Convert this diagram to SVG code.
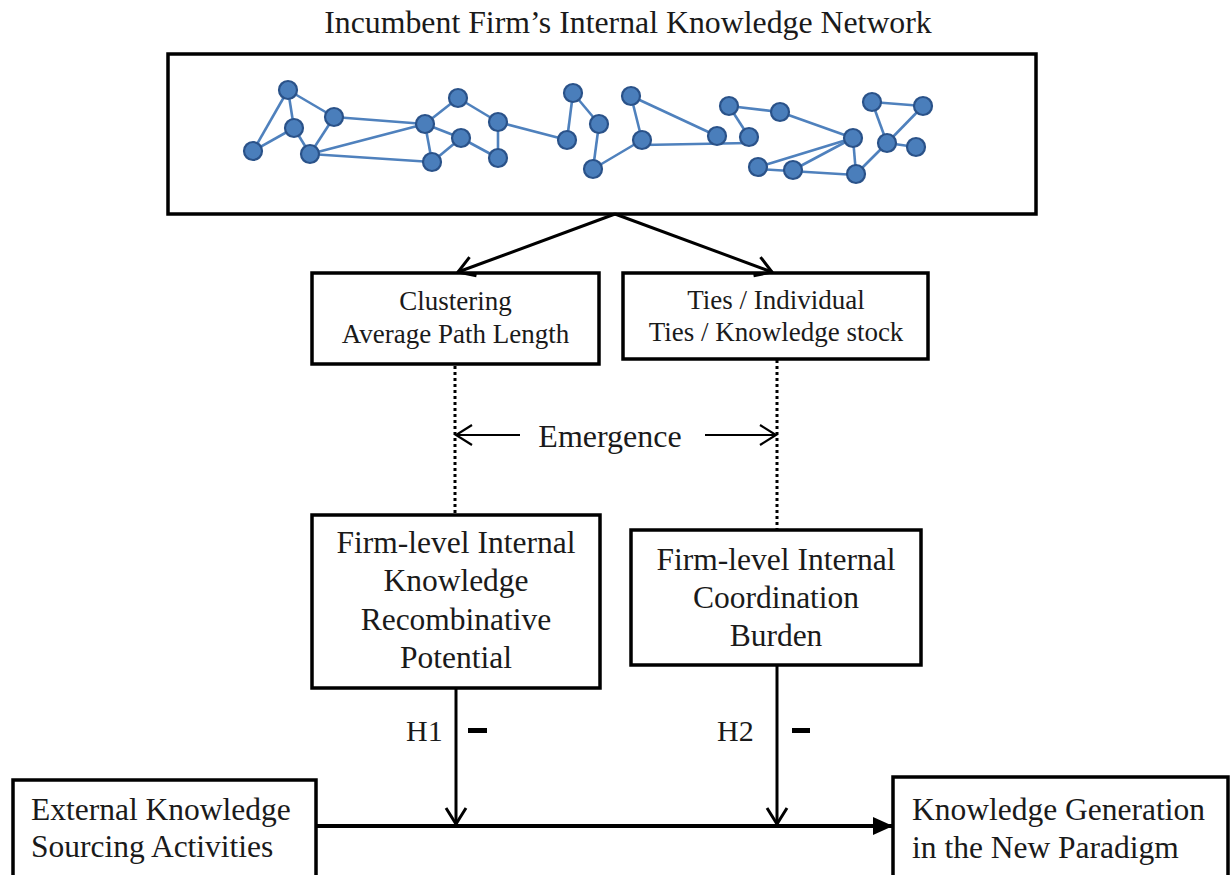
<svg xmlns="http://www.w3.org/2000/svg" width="1230" height="875" viewBox="0 0 1230 875">
<style>
text{font-family:"Liberation Serif","Times New Roman",serif;fill:#1a1a1a}
.box{fill:#fff;stroke:#000;stroke-width:3.5}
.ln{stroke:#000;stroke-width:3;fill:none}
.thin{stroke:#000;stroke-width:2;fill:none}
.dot{stroke:#000;stroke-width:3;stroke-dasharray:3 3;fill:none}
.ed{stroke:#4F81BD;stroke-width:2.6;fill:none}
.nd{fill:#4A7EBB;stroke:#2A5289;stroke-width:2.2}
.t27{font-size:27px;text-anchor:middle}
.t31{font-size:31.5px}
.mid{text-anchor:middle}
</style>
<defs>
<marker id="openv" viewBox="0 0 20 24" refX="18" refY="12" markerWidth="20" markerHeight="24" markerUnits="userSpaceOnUse" orient="auto">
<path d="M2,2 L18,12 L2,22" fill="none" stroke="#000" stroke-width="3"/>
</marker>
<marker id="openthin" viewBox="0 0 20 24" refX="18" refY="12" markerWidth="20" markerHeight="24" markerUnits="userSpaceOnUse" orient="auto">
<path d="M2,2 L18,12 L2,22" fill="none" stroke="#000" stroke-width="2.2"/>
</marker>
<marker id="solid" viewBox="0 0 22 22" refX="21" refY="11" markerWidth="22" markerHeight="22" markerUnits="userSpaceOnUse" orient="auto">
<path d="M1,2 L21,11 L1,20 z" fill="#000"/>
</marker>
</defs>

<text x="628" y="33" class="mid" style="font-size:31.8px">Incumbent Firm’s Internal Knowledge Network</text>

<g id="network">
<rect x="168" y="54" width="868" height="160" class="box"/>
<g class="edges">
<line class="ed" x1="288" y1="90" x2="253" y2="151"/>
<line class="ed" x1="288" y1="90" x2="294" y2="128"/>
<line class="ed" x1="288" y1="90" x2="334" y2="117"/>
<line class="ed" x1="294" y1="128" x2="310" y2="154"/>
<line class="ed" x1="253" y1="151" x2="294" y2="128"/>
<line class="ed" x1="334" y1="117" x2="310" y2="154"/>
<line class="ed" x1="334" y1="117" x2="425" y2="124"/>
<line class="ed" x1="310" y1="154" x2="425" y2="124"/>
<line class="ed" x1="310" y1="154" x2="432" y2="162"/>
<line class="ed" x1="425" y1="124" x2="458" y2="98"/>
<line class="ed" x1="425" y1="124" x2="461" y2="138"/>
<line class="ed" x1="425" y1="124" x2="432" y2="162"/>
<line class="ed" x1="432" y1="162" x2="461" y2="138"/>
<line class="ed" x1="458" y1="98" x2="498" y2="122"/>
<line class="ed" x1="498" y1="122" x2="498" y2="158"/>
<line class="ed" x1="461" y1="138" x2="498" y2="158"/>
<line class="ed" x1="498" y1="122" x2="567" y2="140"/>
<line class="ed" x1="567" y1="140" x2="573" y2="93"/>
<line class="ed" x1="573" y1="93" x2="599" y2="124"/>
<line class="ed" x1="599" y1="124" x2="593" y2="169"/>
<line class="ed" x1="593" y1="169" x2="642" y2="140"/>
<line class="ed" x1="642" y1="140" x2="631" y2="96"/>
<line class="ed" x1="631" y1="96" x2="717" y2="136"/>
<line class="ed" x1="642" y1="145" x2="749" y2="143"/>
<line class="ed" x1="729" y1="106" x2="749" y2="137"/>
<line class="ed" x1="729" y1="106" x2="780" y2="112"/>
<line class="ed" x1="780" y1="112" x2="853" y2="138"/>
<line class="ed" x1="758" y1="167" x2="853" y2="138"/>
<line class="ed" x1="793" y1="170" x2="853" y2="138"/>
<line class="ed" x1="758" y1="169" x2="856" y2="175"/>
<line class="ed" x1="853" y1="138" x2="856" y2="174"/>
<line class="ed" x1="856" y1="174" x2="887" y2="143"/>
<line class="ed" x1="887" y1="143" x2="872" y2="102"/>
<line class="ed" x1="872" y1="102" x2="923" y2="106"/>
<line class="ed" x1="923" y1="106" x2="887" y2="143"/>
<line class="ed" x1="887" y1="143" x2="916" y2="147"/>
</g>
<g class="nodes">
<circle class="nd" cx="288" cy="90" r="9"/>
<circle class="nd" cx="294" cy="128" r="9"/>
<circle class="nd" cx="253" cy="151" r="9"/>
<circle class="nd" cx="310" cy="154" r="9"/>
<circle class="nd" cx="334" cy="117" r="9"/>
<circle class="nd" cx="425" cy="124" r="9"/>
<circle class="nd" cx="458" cy="98" r="9"/>
<circle class="nd" cx="461" cy="138" r="9"/>
<circle class="nd" cx="432" cy="162" r="9"/>
<circle class="nd" cx="498" cy="122" r="9"/>
<circle class="nd" cx="498" cy="158" r="9"/>
<circle class="nd" cx="567" cy="140" r="9"/>
<circle class="nd" cx="573" cy="93" r="9"/>
<circle class="nd" cx="599" cy="124" r="9"/>
<circle class="nd" cx="593" cy="169" r="9"/>
<circle class="nd" cx="631" cy="96" r="9"/>
<circle class="nd" cx="642" cy="140" r="9"/>
<circle class="nd" cx="717" cy="136" r="9"/>
<circle class="nd" cx="749" cy="137" r="9"/>
<circle class="nd" cx="729" cy="106" r="9"/>
<circle class="nd" cx="780" cy="112" r="9"/>
<circle class="nd" cx="758" cy="167" r="9"/>
<circle class="nd" cx="793" cy="170" r="9"/>
<circle class="nd" cx="853" cy="138" r="9"/>
<circle class="nd" cx="856" cy="174" r="9"/>
<circle class="nd" cx="872" cy="102" r="9"/>
<circle class="nd" cx="923" cy="106" r="9"/>
<circle class="nd" cx="887" cy="143" r="9"/>
<circle class="nd" cx="916" cy="147" r="9"/>
</g>
</g>

<g id="clustering">
<rect x="312" y="273" width="287" height="91" class="box"/>
<text x="455.5" y="310" class="t27">Clustering</text>
<text x="455.5" y="343" class="t27">Average Path Length</text>
</g>

<g id="ties">
<rect x="623" y="273" width="305" height="86" class="box"/>
<text x="776" y="309" class="t27">Ties / Individual</text>
<text x="776" y="341" class="t27">Ties / Knowledge stock</text>
</g>

<g id="recombinative">
<rect x="312" y="515" width="288" height="173" class="box"/>
<text x="456" y="553" class="t31 mid">Firm-level Internal</text>
<text x="456" y="591" class="t31 mid">Knowledge</text>
<text x="456" y="630" class="t31 mid">Recombinative</text>
<text x="456" y="668" class="t31 mid">Potential</text>
</g>

<g id="coordination">
<rect x="631" y="530" width="290" height="135" class="box"/>
<text x="776" y="570" class="t31 mid">Firm-level Internal</text>
<text x="776" y="608" class="t31 mid">Coordination</text>
<text x="776" y="646" class="t31 mid">Burden</text>
</g>

<g id="external">
<rect x="13" y="780" width="303" height="110" class="box"/>
<text x="31" y="820" class="t31">External Knowledge</text>
<text x="31" y="857" class="t31">Sourcing Activities</text>
</g>

<g id="generation">
<rect x="893" y="777" width="335" height="110" class="box"/>
<text x="912" y="820" class="t31">Knowledge Generation</text>
<text x="912" y="858" class="t31">in the New Paradigm</text>
</g>

<g id="connectors">
<line class="ln" x1="615" y1="214" x2="458" y2="272" marker-end="url(#openv)"/>
<line class="ln" x1="615" y1="214" x2="772" y2="272" marker-end="url(#openv)"/>
<line class="dot" x1="455" y1="366" x2="455" y2="515"/>
<line class="dot" x1="777" y1="360" x2="777" y2="530"/>
<line class="thin" x1="520" y1="435" x2="456" y2="435" marker-end="url(#openthin)"/>
<line class="thin" x1="705" y1="435" x2="776" y2="435" marker-end="url(#openthin)"/>
<text x="610" y="447" class="mid" style="font-size:32px">Emergence</text>
<line class="ln" x1="456" y1="688" x2="456" y2="824" marker-end="url(#openv)"/>
<line class="ln" x1="777" y1="665" x2="777" y2="824" marker-end="url(#openv)"/>
<line x1="316" y1="826" x2="893" y2="826" stroke="#000" stroke-width="4" marker-end="url(#solid)"/>
<text x="406" y="741" style="font-size:30px">H1</text>
<rect x="468" y="728" width="19" height="5" fill="#000"/>
<text x="717" y="741" style="font-size:30px">H2</text>
<rect x="792" y="728" width="18" height="5" fill="#000"/>
</g>
</svg>
